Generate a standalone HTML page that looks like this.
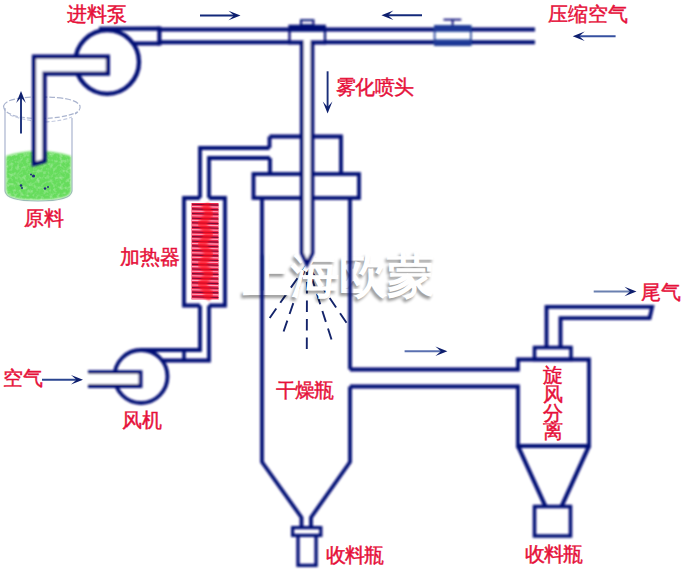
<!DOCTYPE html>
<html><head><meta charset="utf-8">
<style>
html,body{margin:0;padding:0;background:#fff;width:687px;height:577px;overflow:hidden}
svg{display:block;position:absolute;left:0;top:0}
.lbl{font-family:"Liberation Serif",serif;fill:#e6103a;font-size:20px;stroke:#e6103a;stroke-width:0.45px}
.wm{font-family:"Liberation Serif",serif;font-size:48px;font-weight:bold;fill:#fff}
</style></head><body>
<svg width="687" height="577" viewBox="0 0 687 577">
<defs>
<filter id="blur1" x="-50%" y="-10%" width="200%" height="120%"><feGaussianBlur stdDeviation="1.2"/></filter>
<filter id="speck" x="0" y="0" width="100%" height="100%"><feTurbulence type="fractalNoise" baseFrequency="0.3" numOctaves="2" seed="5"/><feColorMatrix type="matrix" values="0 0 0 0 1  0 0 0 0 1  0 0 0 0 1  0 0 0 -2.2 1.25"/><feComposite in2="SourceGraphic" operator="in"/></filter>
<filter id="soft" x="-10%" y="-10%" width="120%" height="120%"><feGaussianBlur stdDeviation="0.8"/></filter>
<filter id="soften" x="0" y="0" width="687" height="577" filterUnits="userSpaceOnUse"><feGaussianBlur stdDeviation="0.8"/></filter>
<filter id="blur" x="-20%" y="-20%" width="140%" height="140%"><feGaussianBlur stdDeviation="1.8"/></filter>
</defs>
<!-- beaker -->
<g stroke="#aab4cf" stroke-width="1.2" fill="none">
<path d="M3.5,106 Q6,97 41,97 Q76,97 80,106 Q81,110 75,114" stroke-dasharray="6 2"/>
<path d="M3.5,106 Q4,114 20,117 Q40,120 60,117 Q72,115 77,112" stroke-dasharray="5 2"/>
<path d="M10,115 Q25,121 45,122 Q62,121 72,117" stroke="#c4cbe0" stroke-dasharray="4 2"/>
<path d="M5,108 L5,191 Q6,201 38,201 Q71,201 72,191 L72,118"/>
</g>
<path d="M6,156 Q38,146 71,156 L71,191 Q71,200 38,200 Q6,200 6,191 Z" fill="#66dc5c" stroke="none" filter="url(#soft)"/>
<path d="M6,156 Q38,146 71,156 L71,191 Q71,200 38,200 Q6,200 6,191 Z" fill="#fff" stroke="none" filter="url(#speck)" opacity="0.35"/>
<g fill="#1d2f7a" stroke="none"><circle cx="33.5" cy="176" r="1.6"/><circle cx="31" cy="174.5" r="1"/><circle cx="21" cy="185.5" r="1.3"/><circle cx="22" cy="188" r="1"/><circle cx="45" cy="188.5" r="1.2"/><circle cx="48" cy="187" r="1"/></g>
<!-- spray -->
<g stroke="#14246a" stroke-width="1.9" stroke-dasharray="11.5 7" fill="none">
<path d="M306.8,349 L307,266"/>
<path d="M269.7,318 L306,266"/>
<path d="M283.6,331.5 L306,266"/>
<path d="M331.5,339.5 L308,266"/>
<path d="M346.5,322.8 L308,266"/>
</g>
<!-- watermark -->
<text class="wm" x="240.5" y="295" style="fill:#000" opacity="0.4" filter="url(#blur)">上海欧蒙</text>
<text class="wm" x="243" y="292">上海欧蒙</text>
<g fill="none" stroke="#000a74" stroke-width="4" filter="url(#soften)">
<!-- top pipe -->
<path d="M99,28.8 L159.5,28.4 M159.5,29.4 L535,29.4"/>
<path d="M134,43.5 L159.5,43.5 M159.5,42.2 L290,42.2 M324,42.2 L535,42.2"/>
<path d="M159.4,26.5 L159.4,45.5" stroke-width="4"/>
<!-- pump -->
<circle cx="107.2" cy="62" r="31.8" stroke-width="4.3"/>
<!-- inlet L pipe -->
<path d="M34,164 L34,56.6 L107.9,56.6 L107.9,73.7 L44.5,73.7 L44.5,161 Z" fill="#fff" stroke-width="4.2"/>
<!-- T block -->
<path d="M288.4,24.8 L326,24.8 L326,31.5 L288.4,31.5 Z" fill="#000a74" stroke="none"/>
<path d="M289.5,31 L289.5,42 M325,31 L325,42" stroke-width="2.2"/>
<rect x="301" y="20.2" width="12.4" height="5" stroke-width="2"/>
<!-- nozzle -->

<!-- valve -->
<path d="M434,25 L471.5,25 L471.5,31.5 L434,31.5 Z M434,39.5 L471.5,39.5 L471.5,46 L434,46 Z" fill="#1a3896" stroke="none"/>
<path d="M434.6,31 L434.6,40 M470.9,31 L470.9,40" stroke="#1a3896" stroke-width="1.6"/>
<path d="M452.6,19.6 L452.6,25.5 M443.5,19.6 L461.3,19.6" stroke-width="1.8"/>
<!-- dryer -->
<path d="M269.5,136.5 L341,136.5 L341,174 M270,158 L270,174" stroke-width="3.8"/>
<rect x="253.5" y="174" width="105.5" height="24" stroke-width="3.8"/>
<path d="M269.5,136.5 L269.5,148" stroke-width="3.8"/>
<path d="M262,198 L262,462 L301.5,517.5 L301.5,527" stroke-width="3.8"/>
<path d="M350,198 L350,369.5 M350,386.5 L350,462 L311,517.5 L311,527" stroke-width="3.8"/>
<rect x="292.6" y="527.6" width="28.2" height="7.8" stroke-width="3.2"/>
<path d="M298,537 L298,565.3 L316.1,565.3 L316.1,537" stroke-width="3.3"/>
<path d="M288.4,42.5 L301.8,42.5 L301.8,253 L307,264 L312.4,253 L312.4,42.5 L326,42.5" stroke-width="3.8" fill="#fff"/>
<!-- air duct -->
<path d="M200,198 L200,148 L269.5,148" stroke-width="3.8"/>
<path d="M209,198 L209,158 L270,158" stroke-width="3.8"/>
<!-- heater -->
<path d="M200,198 L184,198 L184,305.5 L200,305.5 M209,305.5 L225,305.5 L225,198 L209,198" stroke-width="3.8"/>
<path d="M200,305.5 L200,350 L141,350 M209,305.5 L209,360.5 L161,360.5" stroke-width="3.8"/>
<path d="M184,350 L184,361" stroke-width="3.5"/>
<!-- fan -->
<circle cx="141" cy="376.5" r="26.5" stroke-width="3.8"/>
<path d="M88,372.2 L140.5,372.2 L140.5,386 L88,386" fill="#fff" stroke-width="3.8"/>
<!-- outlet pipe -->
<path d="M350,369.5 L518,369.5 L518,359.5 L589,359.5 L589,446 L518,446 L518,386.5 L350,386.5" stroke-width="3.8"/>
<path d="M518,446 L545.5,506.5 M589,446 L561.5,506.5" stroke-width="4.2"/>
<rect x="534.5" y="506.5" width="36" height="29.5" stroke-width="3.5"/>
<rect x="534.5" y="347.5" width="36.5" height="12" stroke-width="3.5"/>
<path d="M546.5,347.5 L546.5,306.8 L652.2,306.8 L649.6,318.2 L560.5,318.2 L560.5,347.5" stroke-width="3.8"/>
</g>
<!-- heater coil -->
<g>
<rect x="191.5" y="203" width="27" height="96.5" fill="#f2284f"/>
<path d="M192,204.3 L218.5,205.1" stroke="#7a0c34" stroke-width="1.1"/>
<path d="M192,206.5 L218.5,207.1" stroke="#ffa8c0" stroke-width="1.1"/>
<path d="M192,208.9 L218.5,209.7" stroke="#7a0c34" stroke-width="1.1"/>
<path d="M192,211.1 L218.5,211.7" stroke="#ffa8c0" stroke-width="1.1"/>
<path d="M192,213.5 L218.5,214.3" stroke="#7a0c34" stroke-width="1.1"/>
<path d="M192,215.7 L218.5,216.3" stroke="#ffa8c0" stroke-width="1.1"/>
<path d="M192,218.2 L218.5,219.0" stroke="#7a0c34" stroke-width="1.1"/>
<path d="M192,220.4 L218.5,221.0" stroke="#ffa8c0" stroke-width="1.1"/>
<path d="M192,222.8 L218.5,223.6" stroke="#7a0c34" stroke-width="1.1"/>
<path d="M192,225.0 L218.5,225.6" stroke="#ffa8c0" stroke-width="1.1"/>
<path d="M192,227.4 L218.5,228.2" stroke="#7a0c34" stroke-width="1.1"/>
<path d="M192,229.6 L218.5,230.2" stroke="#ffa8c0" stroke-width="1.1"/>
<path d="M192,232.0 L218.5,232.8" stroke="#7a0c34" stroke-width="1.1"/>
<path d="M192,234.2 L218.5,234.8" stroke="#ffa8c0" stroke-width="1.1"/>
<path d="M192,236.6 L218.5,237.4" stroke="#7a0c34" stroke-width="1.1"/>
<path d="M192,238.8 L218.5,239.4" stroke="#ffa8c0" stroke-width="1.1"/>
<path d="M192,241.3 L218.5,242.1" stroke="#7a0c34" stroke-width="1.1"/>
<path d="M192,243.5 L218.5,244.1" stroke="#ffa8c0" stroke-width="1.1"/>
<path d="M192,245.9 L218.5,246.7" stroke="#7a0c34" stroke-width="1.1"/>
<path d="M192,248.1 L218.5,248.7" stroke="#ffa8c0" stroke-width="1.1"/>
<path d="M192,250.5 L218.5,251.3" stroke="#7a0c34" stroke-width="1.1"/>
<path d="M192,252.7 L218.5,253.3" stroke="#ffa8c0" stroke-width="1.1"/>
<path d="M192,255.1 L218.5,255.9" stroke="#7a0c34" stroke-width="1.1"/>
<path d="M192,257.3 L218.5,257.9" stroke="#ffa8c0" stroke-width="1.1"/>
<path d="M192,259.7 L218.5,260.5" stroke="#7a0c34" stroke-width="1.1"/>
<path d="M192,261.9 L218.5,262.5" stroke="#ffa8c0" stroke-width="1.1"/>
<path d="M192,264.4 L218.5,265.2" stroke="#7a0c34" stroke-width="1.1"/>
<path d="M192,266.6 L218.5,267.2" stroke="#ffa8c0" stroke-width="1.1"/>
<path d="M192,269.0 L218.5,269.8" stroke="#7a0c34" stroke-width="1.1"/>
<path d="M192,271.2 L218.5,271.8" stroke="#ffa8c0" stroke-width="1.1"/>
<path d="M192,273.6 L218.5,274.4" stroke="#7a0c34" stroke-width="1.1"/>
<path d="M192,275.8 L218.5,276.4" stroke="#ffa8c0" stroke-width="1.1"/>
<path d="M192,278.2 L218.5,279.0" stroke="#7a0c34" stroke-width="1.1"/>
<path d="M192,280.4 L218.5,281.0" stroke="#ffa8c0" stroke-width="1.1"/>
<path d="M192,282.8 L218.5,283.6" stroke="#7a0c34" stroke-width="1.1"/>
<path d="M192,285.0 L218.5,285.6" stroke="#ffa8c0" stroke-width="1.1"/>
<path d="M192,287.5 L218.5,288.3" stroke="#7a0c34" stroke-width="1.1"/>
<path d="M192,289.7 L218.5,290.3" stroke="#ffa8c0" stroke-width="1.1"/>
<path d="M192,292.1 L218.5,292.9" stroke="#7a0c34" stroke-width="1.1"/>
<path d="M192,294.3 L218.5,294.9" stroke="#ffa8c0" stroke-width="1.1"/>
<path d="M192,296.7 L218.5,297.5" stroke="#7a0c34" stroke-width="1.1"/>
<path d="M192,298.9 L218.5,299.5" stroke="#ffa8c0" stroke-width="1.1"/>
<path d="M205,204 L209,214 L202,224 L209,234 L202,244 L209,254 L202,264 L209,274 L202,284 L209,294 L206,299" stroke="#ff0a1a" stroke-width="8" fill="none" filter="url(#blur1)" opacity="0.65"/>
</g>
<!-- arrows -->
<path d="M200,15.5 L234.5,15.5" stroke="#13297a" stroke-width="1.9" fill="none"/>
<path d="M240.5,15.5 L228.5,20.3 L234.0,15.5 L228.5,10.7 Z" fill="#0e1f6e"/>
<path d="M422,15.3 L387.4,15.3" stroke="#13297a" stroke-width="1.9" fill="none"/>
<path d="M381.4,15.3 L393.4,10.5 L387.9,15.3 L393.4,20.1 Z" fill="#0e1f6e"/>
<path d="M615.6,36.3 L578.7,36.3" stroke="#3650a0" stroke-width="1.9" fill="none"/>
<path d="M572.7,36.3 L584.7,31.5 L579.2,36.3 L584.7,41.1 Z" fill="#0e1f6e"/>
<path d="M327.6,71.3 L327.6,107.4" stroke="#1a2f7a" stroke-width="1.9" fill="none"/>
<path d="M327.6,113.4 L322.8,101.4 L327.6,106.9 L332.4,101.4 Z" fill="#0e1f6e"/>
<path d="M21,133.5 L21.0,97.0" stroke="#1a2f7a" stroke-width="1.9" fill="none"/>
<path d="M21.0,91.0 L25.8,103.0 L21.0,97.5 L16.2,103.0 Z" fill="#0e1f6e"/>
<path d="M42,379.8 L77.0,379.8" stroke="#2a4590" stroke-width="1.9" fill="none"/>
<path d="M83.0,379.8 L71.0,384.6 L76.5,379.8 L71.0,375.0 Z" fill="#0e1f6e"/>
<path d="M404.6,351.3 L441.4,351.3" stroke="#5a70b0" stroke-width="1.9" fill="none"/>
<path d="M447.4,351.3 L435.4,356.1 L440.9,351.3 L435.4,346.5 Z" fill="#0e1f6e"/>
<path d="M593.7,291.5 L630.5,291.5" stroke="#6a80b0" stroke-width="1.9" fill="none"/>
<path d="M636.5,291.5 L624.5,296.3 L630.0,291.5 L624.5,286.7 Z" fill="#0e1f6e"/>
<!-- labels -->
<text class="lbl" x="67" y="20.5">进料泵</text>
<text class="lbl" x="547.5" y="20.5">压缩空气</text>
<text class="lbl" x="336" y="94" letter-spacing="-0.6">雾化喷头</text>
<text class="lbl" x="120" y="263.5">加热器</text>
<text class="lbl" x="2.5" y="385">空气</text>
<text class="lbl" x="121.5" y="426.5">风机</text>
<text class="lbl" x="276" y="397" letter-spacing="-1">干燥瓶</text>
<text class="lbl" x="326" y="561.5" letter-spacing="-1">收料瓶</text>
<text class="lbl" x="641" y="299">尾气</text>
<text class="lbl" x="543" y="382">旋</text>
<text class="lbl" x="543" y="400.8">风</text>
<text class="lbl" x="543" y="419.6">分</text>
<text class="lbl" x="543" y="438.4">离</text>
<text class="lbl" x="524.5" y="561" letter-spacing="-1">收料瓶</text>
<text class="lbl" x="23.5" y="224.5">原料</text>
</svg>
</body></html>
